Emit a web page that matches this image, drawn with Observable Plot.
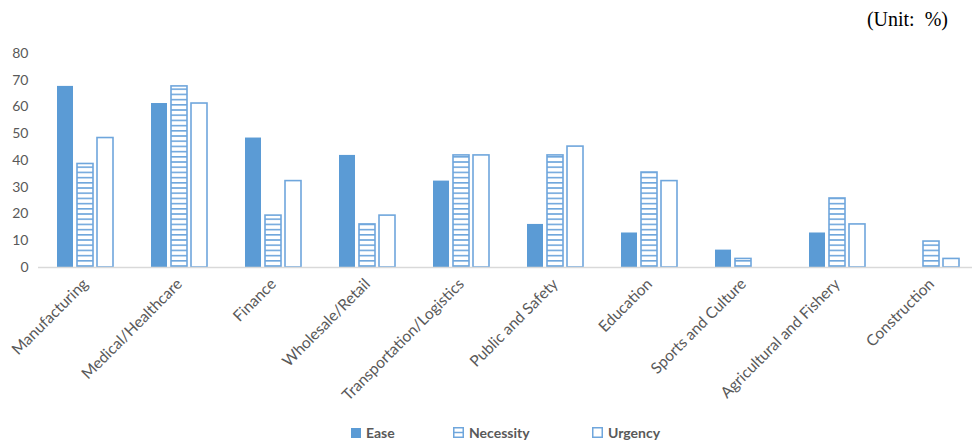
<!DOCTYPE html>
<html>
<head>
<meta charset="utf-8">
<script src="https://cdn.jsdelivr.net/npm/d3@7"></script>
<script src="https://cdn.jsdelivr.net/npm/@observablehq/plot@0.6"></script>
<style>
  body { margin: 0; background: #fff; }
  #wrap { position: relative; width: 972px; height: 440px; overflow: hidden; font-family: Lato, "Open Sans", sans-serif; }
  #unit { position: absolute; right: 24px; top: 8px; font-family: "Liberation Serif", "Times New Roman", serif; font-size: 20px; color: #000; white-space: pre; }
  .leg { position: absolute; top: 424px; display: flex; align-items: center; font-family: Lato, sans-serif; font-weight: bold; font-size: 14px; color: #595959; }
  .leg svg { margin-right: 5px; }
</style>
</head>
<body>
<div id="wrap">
  <div id="unit">(Unit:  %)</div>
</div>
<script>
const categories = ["Manufacturing", "Medical/Healthcare", "Finance", "Wholesale/Retail", "Transportation/Logistics", "Public and Safety", "Education", "Sports and Culture", "Agricultural and Fishery", "Construction"];
const seriesNames = ["Ease", "Necessity", "Urgency"];
const ease =      [67.7, 61.3, 48.4, 41.9, 32.3, 16.1, 12.9, 6.5, 12.9, 0];
const necessity = [38.7, 67.7, 19.4, 16.1, 41.9, 41.9, 35.5, 3.2, 25.8, 9.7];
const urgency =   [48.4, 61.3, 32.3, 19.4, 41.9, 45.2, 32.3, 0, 16.1, 3.2];
const yTicks = [0, 10, 20, 30, 40, 50, 60, 70, 80];

const blue = "#5b9bd5";
const lineBlue = "#6fa6dc";

const rows = [];
categories.forEach((c, i) => {
  rows.push({category: c, series: "Ease", value: ease[i]});
  rows.push({category: c, series: "Necessity", value: necessity[i]});
  rows.push({category: c, series: "Urgency", value: urgency[i]});
});
const nz = rows.filter(d => d.value > 0);

const chart = Plot.plot({
  width: 972,
  height: 440,
  marginLeft: 38,
  marginRight: -6,
  marginTop: 53,
  marginBottom: 173,
  style: {fontFamily: "Lato, 'Open Sans', sans-serif", fontSize: "14px", color: "#595959", background: "transparent"},
  fx: {domain: categories, padding: 0},
  x: {domain: seriesNames, paddingInner: 0.2, paddingOuter: 0.86, axis: null},
  y: {domain: [0, 80], ticks: yTicks},
  marks: [
    Plot.axisY({ticks: yTicks, tickSize: 0, tickPadding: 10, label: null}),
    Plot.axisFx({anchor: "bottom", tickRotate: -45, tickSize: 0, tickPadding: 14, fontSize: 15.5, label: null}),
    Plot.barY(nz.filter(d => d.series === "Ease"), {fx: "category", x: "series", y: "value", fill: blue}),
    Plot.barY(nz.filter(d => d.series === "Necessity"), {fx: "category", x: "series", y: "value", fill: "url(#stripes)", stroke: lineBlue, strokeWidth: 1.6}),
    Plot.barY(nz.filter(d => d.series === "Urgency"), {fx: "category", x: "series", y: "value", fill: "white", stroke: lineBlue, strokeWidth: 1.6}),
    Plot.ruleY([0], {stroke: "#d9d9d9", strokeWidth: 1.5})
  ]
});

d3.select(chart).insert("defs", ":first-child").html(
  `<pattern id="stripes" patternUnits="userSpaceOnUse" width="10" height="5.2">
     <rect width="10" height="5.2" fill="white"/>
     <rect y="0" width="10" height="1.6" fill="${lineBlue}"/>
   </pattern>`);

const wrap = document.getElementById("wrap");
wrap.insertBefore(chart, wrap.firstChild);

// legend
const legendItems = [
  {name: seriesNames[0], left: 351, kind: "solid"},
  {name: seriesNames[1], left: 453, kind: "stripes"},
  {name: seriesNames[2], left: 592, kind: "empty"}
];
legendItems.forEach(it => {
  const div = document.createElement("div");
  div.className = "leg";
  div.style.left = it.left + "px";
  let sw;
  if (it.kind === "solid") sw = `<svg width="10" height="10"><rect x="0" y="0" width="10" height="10" fill="${blue}"/></svg>`;
  else if (it.kind === "stripes") sw = `<svg width="11" height="11"><rect x="0.75" y="0.75" width="9.5" height="9.5" fill="white" stroke="${lineBlue}" stroke-width="1.5"/><line x1="0.75" x2="10.25" y1="5.5" y2="5.5" stroke="${lineBlue}" stroke-width="1.5"/></svg>`;
  else sw = `<svg width="11" height="11"><rect x="0.75" y="0.75" width="9.5" height="9.5" fill="white" stroke="${lineBlue}" stroke-width="1.5"/></svg>`;
  div.innerHTML = sw + `<span>${it.name}</span>`;
  wrap.appendChild(div);
});
</script>
</body>
</html>
